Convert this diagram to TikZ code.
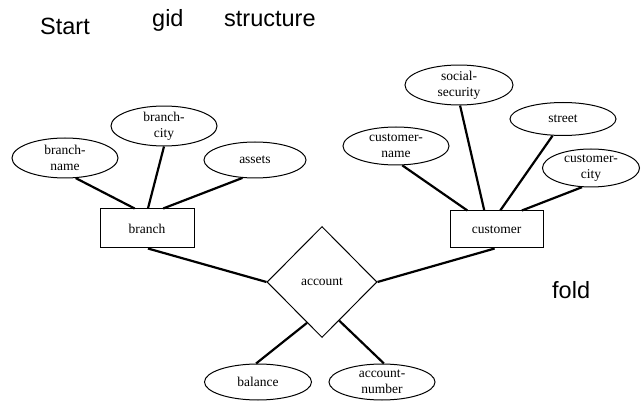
\documentclass[tikz,border=0pt]{standalone}
\usepackage{fontspec}
\setmainfont{Liberation Serif}
\newfontfamily\arialf{Liberation Sans}
\usetikzlibrary{shapes.geometric,calc}
\begin{document}
\begin{tikzpicture}[x=1pt,y=-1pt,
  erfont/.style={font=\fontsize{13.5}{16}\selectfont},
  attr/.style={ellipse,draw,line width=1pt,inner sep=0pt,align=center,erfont},
  ent/.style={rectangle,draw,line width=1pt,inner sep=0pt,erfont},
  rel/.style={diamond,draw,line width=1pt,inner sep=0pt,aspect=1,erfont},
  conn/.style={line width=2.2pt},
  lab/.style={anchor=base west,inner sep=0pt,font=\arialf\fontsize{23.5}{28}\selectfont}]
\useasboundingbox (0,0) rectangle (641,401);

% top labels
\node[lab] (start) at (40,35) {Start};
\node[lab] (gid) at (152,27) {gid};
\node[lab] (struct) at (224,27) {structure};
\node[lab] (fold) at (552,299) {fold};

% entities and relationship
\node[ent,minimum width=94pt,minimum height=39pt] (branch) at (147,228.5) {branch};
\node[ent,minimum width=93pt,minimum height=37pt] (customer) at (496.5,229.5) {customer};
\node[rel,minimum width=110pt,minimum height=111pt] (acc) at (322,282) {account};

% attributes
\node[attr,minimum width=106pt,minimum height=40pt] (bname) at (65,158) {branch-\\name};
\node[attr,minimum width=106pt,minimum height=38pt] (bcity) at (164,126) {branch-\\city};
\node[attr,minimum width=102pt,minimum height=36pt] (assets) at (255,160) {assets};
\node[attr,minimum width=106pt,minimum height=38pt] (cname) at (396,146) {customer-\\name};
\node[attr,minimum width=108pt,minimum height=36pt] (ssec) at (459,85) {social-\\security};
\node[attr,minimum width=106pt,minimum height=33pt] (street) at (563,119) {street};
\node[attr,minimum width=97pt,minimum height=38pt] (ccity) at (591,168) {customer-\\city};
\node[attr,minimum width=107pt,minimum height=36pt] (balance) at (258,382) {balance};
\node[attr,minimum width=106pt,minimum height=36pt] (accnum) at (382,382) {account-\\number};

% connectors
\draw[conn] (bname.-62) -- ($(branch.north west)!0.37!(branch.north east)$);
\draw[conn] (bcity.south) -- ($(branch.north west)!0.51!(branch.north east)$);
\draw[conn] (assets.-125) -- ($(branch.north west)!0.67!(branch.north east)$);
\draw[conn] ($(branch.south west)!0.51!(branch.south east)$) -- (acc.west);
\draw[conn] ($(customer.south west)!0.48!(customer.south east)$) -- (acc.east);
\draw[conn] (cname.-72) -- ($(customer.north west)!0.19!(customer.north east)$);
\draw[conn] (ssec.-87) -- ($(customer.north west)!0.37!(customer.north east)$);
\draw[conn] (street.-122) -- ($(customer.north west)!0.54!(customer.north east)$);
\draw[conn] (ccity.-115) -- ($(customer.north west)!0.77!(customer.north east)$);
\draw[conn] ($(acc.west)!0.73!(acc.south)$) -- (balance.96);
\draw[conn] ($(acc.south)!0.31!(acc.east)$) -- (accnum.84);
\end{tikzpicture}
\end{document}
